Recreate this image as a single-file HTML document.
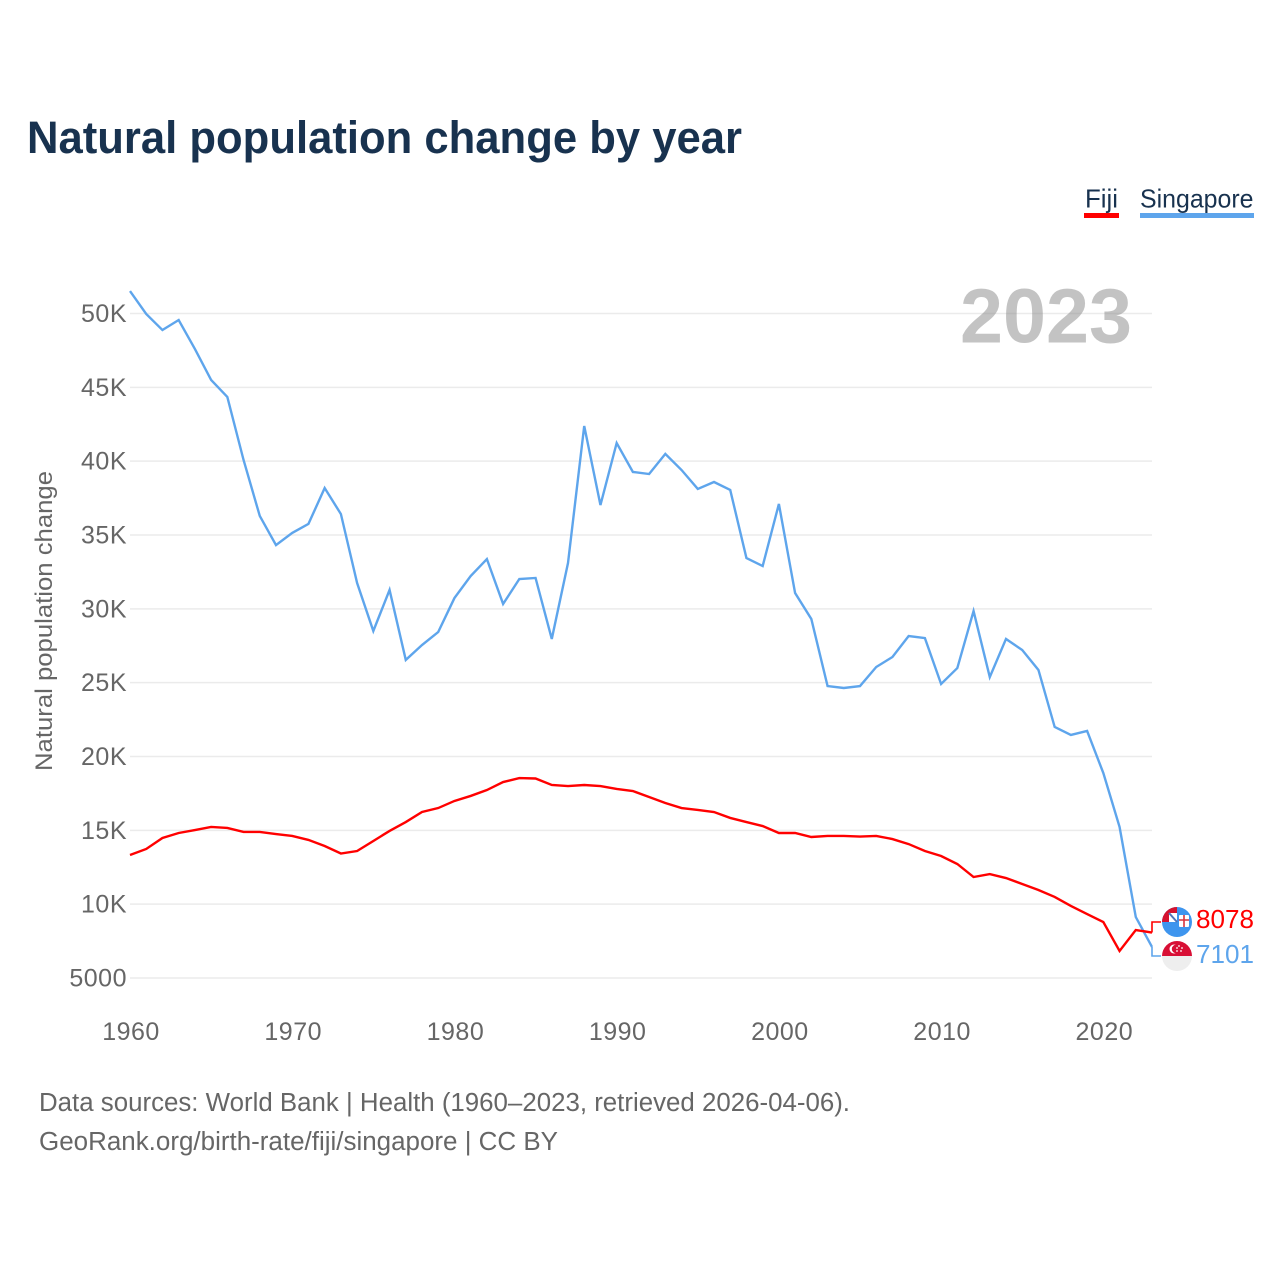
<!DOCTYPE html>
<html>
<head>
<meta charset="utf-8">
<title>Natural population change by year</title>
<style>
html,body{margin:0;padding:0;background:#fff;}
svg{display:block;font-family:"Liberation Sans",sans-serif;}
</style>
</head>
<body>
<svg id="chart" xmlns="http://www.w3.org/2000/svg" width="1280" height="1280" viewBox="0 0 1280 1280">
  <rect width="1280" height="1280" fill="#fff"/>
  <text x="27" y="153" font-size="45" font-weight="700" fill="#18324f" textLength="715" lengthAdjust="spacingAndGlyphs">Natural population change by year</text>

  <g>
    <text x="1085" y="207.500" font-size="26" fill="#18324f" textLength="33" lengthAdjust="spacingAndGlyphs">Fiji</text>
    <rect x="1084" y="213" width="35" height="5" fill="#ff0000"/>
  </g>
  <g>
    <text x="1140" y="207.500" font-size="26" fill="#18324f" textLength="113.500" lengthAdjust="spacingAndGlyphs">Singapore</text>
    <rect x="1140" y="213" width="114" height="5" fill="#5ea5ec"/>
  </g>

  <g id="grid"></g>
  <g id="yaxis"></g>
  <g id="xaxis"></g>

  <text x="960" y="342.500" font-size="77" font-weight="700" fill="#8c8c8c" fill-opacity="0.52" textLength="172" lengthAdjust="spacingAndGlyphs">2023</text>
  <text transform="translate(52,771) rotate(-90)" font-size="24.5" fill="#666" textLength="300" lengthAdjust="spacingAndGlyphs">Natural population change</text>

  <g id="series"></g>

  <defs>
    <clipPath id="fiji-clip"><circle cx="1177" cy="922" r="15"/></clipPath>
    <clipPath id="sg-clip"><circle cx="1177" cy="956" r="15"/></clipPath>
  </defs>

  <g>
    <g clip-path="url(#fiji-clip)">
      <rect x="1162" y="907" width="30" height="30" fill="#3e95ee"/>
      <rect x="1162" y="907" width="15" height="15" fill="#d5122f"/>
      <rect x="1169" y="913" width="8" height="9" fill="#fff"/>
      <path d="M1169 913 L1177 922" stroke="#4f74b8" stroke-width="2"/>
      <rect x="1179" y="915" width="10" height="12" rx="1" fill="#fff"/>
      <path d="M1184 915 V927 M1179 920 H1189" stroke="#d8333c" stroke-width="1.6"/>
    </g>
  </g>
  <g>
    <g clip-path="url(#sg-clip)">
      <rect x="1162" y="941" width="30" height="15" fill="#d80f35"/>
      <rect x="1162" y="956" width="30" height="15" fill="#eeeeee"/>
      <circle cx="1174" cy="949" r="4.500" fill="#fff"/>
      <circle cx="1176" cy="949" r="4.200" fill="#d80f35"/>
      <circle cx="1179" cy="946" r="0.900" fill="#fff"/>
      <circle cx="1182" cy="948" r="0.900" fill="#fff"/>
      <circle cx="1181" cy="951" r="0.900" fill="#fff"/>
      <circle cx="1177" cy="951" r="0.900" fill="#fff"/>
      <circle cx="1177" cy="948" r="0.900" fill="#fff"/>
    </g>
  </g>

  <text id="fiji-value" x="1196" y="928" font-size="26" fill="#ff0000" textLength="58" lengthAdjust="spacingAndGlyphs"></text>
  <text id="singapore-value" x="1196" y="963" font-size="26" fill="#5ea5ec" textLength="58" lengthAdjust="spacingAndGlyphs"></text>

  <text x="39" y="1111" font-size="25.5" fill="#666" textLength="811" lengthAdjust="spacingAndGlyphs">Data sources: World Bank | Health (1960–2023, retrieved 2026-04-06).</text>
  <text x="39" y="1150" font-size="25.5" fill="#666" textLength="519" lengthAdjust="spacingAndGlyphs">GeoRank.org/birth-rate/fiji/singapore | CC BY</text>
</svg>
<script>
const startYear = 1960;
const yTicks = [5000, 10000, 15000, 20000, 25000, 30000, 35000, 40000, 45000, 50000];
const yTickLabels = ["5000", "10K", "15K", "20K", "25K", "30K", "35K", "40K", "45K", "50K"];
const xTicks = [1960, 1970, 1980, 1990, 2000, 2010, 2020];
const fijiValues = [13330,13740,14480,14820,15020,15230,15160,14890,14890,14750,14620,14350,13940,13430,13600,14280,14960,15560,16240,16510,16990,17330,17730,18270,18540,18510,18070,18000,18070,18000,17800,17660,17260,16850,16510,16380,16240,15840,15560,15290,14820,14820,14550,14620,14620,14580,14620,14410,14070,13600,13260,12720,11840,12040,11770,11370,10960,10490,9880,9330,8790,6830,8250,8078];
const singaporeValues = [51520,49970,48880,49560,47600,45500,44350,40080,36290,34320,35140,35750,38180,36420,31750,28500,31280,26540,27550,28430,30730,32220,33370,30330,32020,32090,27960,33100,42380,37030,41230,39270,39130,40490,39400,38120,38590,38050,33440,32900,37100,31070,29310,24770,24640,24770,26060,26740,28160,28020,24910,25990,29850,25380,27960,27210,25860,22000,21460,21730,18880,15230,9130,7101];

const NS = 'http://www.w3.org/2000/svg';
const plot = { left: 130, right: 1152, yAt5000: 978, yAt50000: 313.5, endYear: 2023 };
function xScale(year) {
  return plot.left + (year - startYear) * (plot.right - plot.left) / (plot.endYear - startYear);
}
function yScale(v) {
  return plot.yAt5000 + (v - 5000) * (plot.yAt50000 - plot.yAt5000) / 45000;
}
function seriesPath(values) {
  return values.map(function (v, i) {
    return (i ? 'L' : 'M') + xScale(startYear + i).toFixed(2) + ' ' + yScale(v).toFixed(2);
  }).join(' ');
}

const gridGroup = document.getElementById('grid');
const yAxisGroup = document.getElementById('yaxis');
const xAxisGroup = document.getElementById('xaxis');
const seriesGroup = document.getElementById('series');

yTicks.forEach(function (t, i) {
  const line = document.createElementNS(NS, 'line');
  
  
  line.setAttribute('x1', plot.left);
  line.setAttribute('x2', plot.right);
  line.setAttribute('y1', yScale(t));
  line.setAttribute('y2', yScale(t));
  line.setAttribute('stroke', '#ebebeb');
  line.setAttribute('stroke-width', '1.5');
  gridGroup.appendChild(line);

  const label = document.createElementNS(NS, 'text');
  
  
  label.setAttribute('x', 127);
  label.setAttribute('y', yScale(t) + 8.5);
  label.setAttribute('text-anchor', 'end');
  label.setAttribute('font-size', '25');
  label.setAttribute('letter-spacing', '0.5');
  label.setAttribute('fill', '#666');
  label.textContent = yTickLabels[i];
  yAxisGroup.appendChild(label);
});

xTicks.forEach(function (t) {
  const label = document.createElementNS(NS, 'text');
  
  
  label.setAttribute('x', xScale(t) + 1);
  label.setAttribute('y', 1040);
  label.setAttribute('text-anchor', 'middle');
  label.setAttribute('font-size', '25');
  label.setAttribute('letter-spacing', '0.5');
  label.setAttribute('fill', '#666');
  label.textContent = String(t);
  xAxisGroup.appendChild(label);
});

const singaporeLine = document.createElementNS(NS, 'path');


singaporeLine.setAttribute('d', seriesPath(singaporeValues));
singaporeLine.setAttribute('fill', 'none');
singaporeLine.setAttribute('stroke', '#5ea5ec');
singaporeLine.setAttribute('stroke-width', '2.4');
seriesGroup.appendChild(singaporeLine);

const fijiLine = document.createElementNS(NS, 'path');


fijiLine.setAttribute('d', seriesPath(fijiValues));
fijiLine.setAttribute('fill', 'none');
fijiLine.setAttribute('stroke', '#ff0000');
fijiLine.setAttribute('stroke-width', '2.4');
seriesGroup.appendChild(fijiLine);

const fijiLast = fijiValues[fijiValues.length - 1];
const singaporeLast = singaporeValues[singaporeValues.length - 1];

const fijiConnector = document.createElementNS(NS, 'path');


fijiConnector.setAttribute('d', 'M' + plot.right + ' ' + yScale(fijiLast).toFixed(2) + ' V922 H1161');
fijiConnector.setAttribute('fill', 'none');
fijiConnector.setAttribute('stroke', '#ff0000');
fijiConnector.setAttribute('stroke-width', '1.6');
seriesGroup.appendChild(fijiConnector);

const singaporeConnector = document.createElementNS(NS, 'path');


singaporeConnector.setAttribute('d', 'M' + plot.right + ' ' + yScale(singaporeLast).toFixed(2) + ' V956 H1161');
singaporeConnector.setAttribute('fill', 'none');
singaporeConnector.setAttribute('stroke', '#5ea5ec');
singaporeConnector.setAttribute('stroke-width', '1.6');
seriesGroup.appendChild(singaporeConnector);

document.getElementById('fiji-value').textContent = String(fijiLast);
document.getElementById('singapore-value').textContent = String(singaporeLast);
</script>
</body>
</html>
